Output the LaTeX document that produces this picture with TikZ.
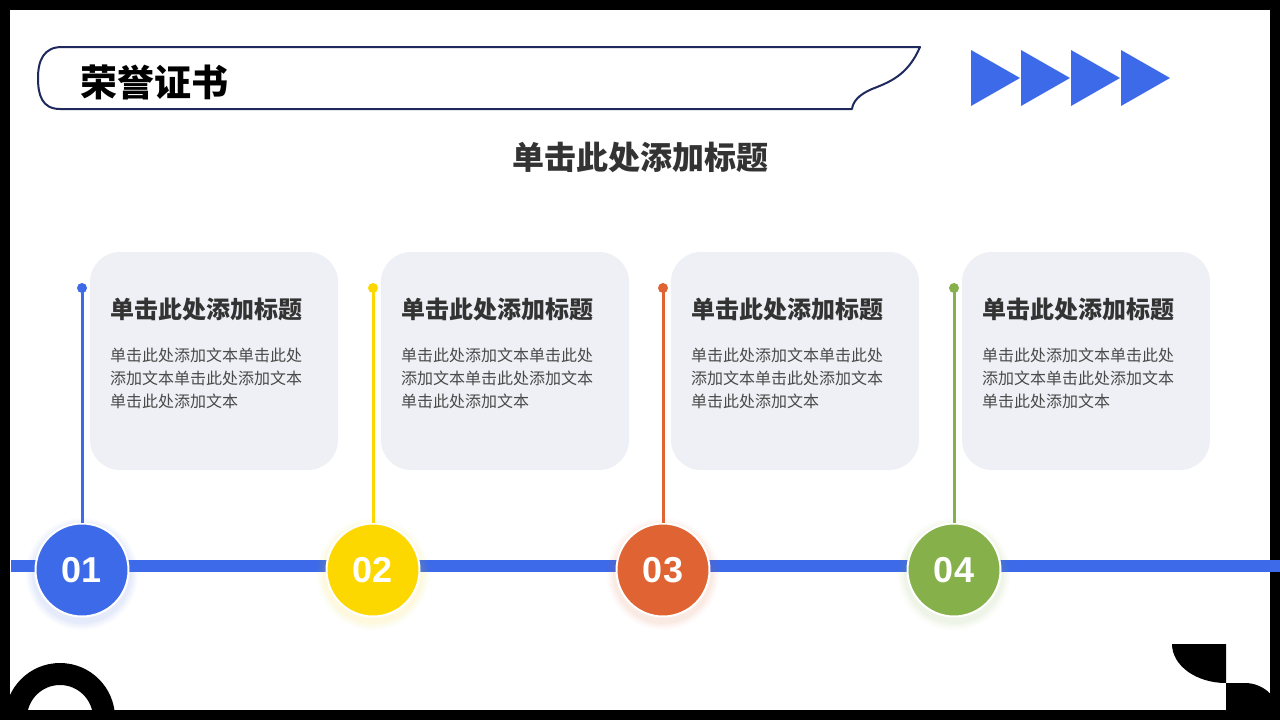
\documentclass[tikz,border=0pt]{standalone}
\usepackage{fontspec}
\setmainfont{Noto Sans CJK SC}
\newfontfamily\numfont{Liberation Sans}
\definecolor{cblue}{HTML}{3D6AE8}
\definecolor{cyellow}{HTML}{FDD800}
\definecolor{corange}{HTML}{E06433}
\definecolor{cgreen}{HTML}{86B04A}
\definecolor{navy}{HTML}{1E2A5E}
\definecolor{cardgray}{HTML}{EFF0F5}
\definecolor{txtdark}{HTML}{333333}
\definecolor{txtbody}{HTML}{4A4A4A}
\begin{document}
\begin{tikzpicture}[x=1pt,y=-1pt,
  cardbox/.style={fill=cardgray, rounded corners=30pt, minimum width=248pt, minimum height=218pt, inner sep=0pt},
  cardtitle/.style={text=txtdark, font=\fontsize{24}{27}\selectfont\bfseries, inner sep=0pt},
  cardbody/.style={text=txtbody, font=\fontsize{16}{20}\selectfont, inner sep=0pt, anchor=west},
  numcircle/.style={circle, draw=white, line width=2pt, minimum size=93pt, inner sep=0pt, text=white, font=\numfont\fontsize{36}{40}\selectfont\bfseries},
  dotnode/.style={circle, minimum size=10pt, inner sep=0pt},
  vline/.style={line width=3pt},
]
\useasboundingbox (0,0) rectangle (1280,720);
% frame
\fill[black] (0,0) rectangle (1280,720);
\fill[white] (10,10) rectangle (1270,710);
% bottom-left ring
\fill[black, even odd rule] (60,718) circle (55) (60,718) circle (33);
% bottom-right shapes
\fill[black] (1172,644) -- (1226,644) -- (1226,683) arc[start angle=90, end angle=180, x radius=54, y radius=39] -- cycle;
\fill[black] (1226,683) -- (1245,683) arc[start angle=-90, end angle=0, radius=35] -- (1280,720) -- (1226,720) -- cycle;
% header banner
\draw[navy, line width=2pt, line join=round]
  (62,47) -- (920,47)
  .. controls (908,75) and (890,82) .. (872,89)
  .. controls (858,95) and (853,102) .. (852,109)
  -- (60,109)
  .. controls (42,109) and (38,95) .. (38,78)
  .. controls (38,60) and (44,47) .. (62,47) -- cycle;
\node[text=black, font=\fontsize{37}{40}\selectfont\bfseries, inner sep=0pt] (htitle) at (154,82) {荣誉证书};
% arrows
\foreach \k in {0,...,3}
  \fill[cblue] ({971+50*\k},50) -- ({1020+50*\k},78) -- ({971+50*\k},106) -- cycle;
% subtitle
\node[text=txtdark, font=\fontsize{32}{35}\selectfont\bfseries, inner sep=0pt] (subtitle) at (640,157) {单击此处添加标题};
% timeline
\coordinate (tl) at (11,566);
\coordinate (tr) at (1280,566);
\draw[cblue, line width=12pt] (tl) -- (tr);
% items
\foreach \x/\c/\n/\i in {82/cblue/01/1, 373/cyellow/02/2, 663/corange/03/3, 954/cgreen/04/4} {
  \node[cardbox] (card\i) at ({\x+132},361) {};
  \node[cardtitle] (ctitle\i) at ({\x+124},309) {单击此处添加标题};
  \node[cardbody] (cbodya\i) at ({\x+28},355) {单击此处添加文本单击此处};
  \node[cardbody] (cbodyb\i) at ({\x+28},378) {添加文本单击此处添加文本};
  \node[cardbody] (cbodyc\i) at ({\x+28},401) {单击此处添加文本};
  \foreach \r/\o in {56/0.025, 54/0.03, 52/0.035, 50/0.04} {
    \fill[\c, opacity=\o] (\x,574) circle (\r);
  }
  \node[dotnode, fill=\c] (dot\i) at (\x,288) {};
  \node[numcircle, fill=\c] (num\i) at (\x,570) {\n};
  \draw[vline, \c] (dot\i.center) -- (num\i.north);
}
\end{tikzpicture}
\end{document}
